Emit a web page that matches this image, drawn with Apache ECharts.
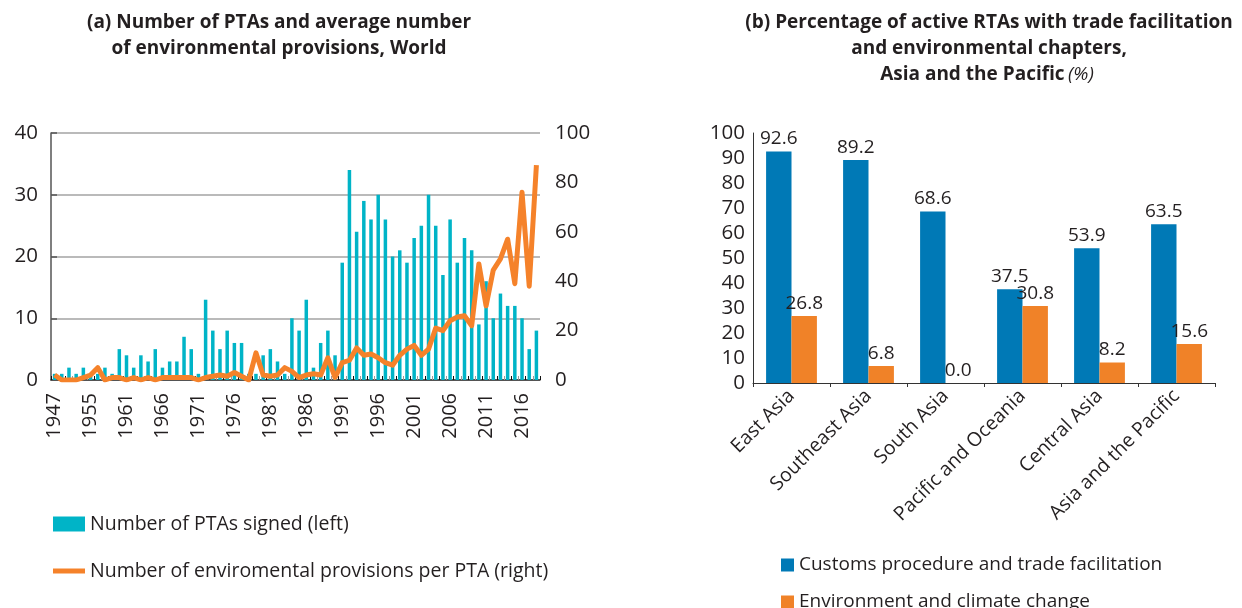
<!DOCTYPE html>
<html>
<head>
<meta charset="utf-8">
<script src="https://cdn.jsdelivr.net/npm/echarts@6/dist/echarts.min.js"></script>
<style>
  html, body { margin: 0; padding: 0; background: #ffffff; }
  #chart { width: 1242px; height: 608px; }
</style>
</head>
<body>
<div id="chart"></div>
<script>
// (a) PTAs signed per year and average environmental provisions per PTA
const years = [
  '1947', '1948', '1949', '1951', '1953', '1955', '1956', '1957', '1958', '1960',
  '1961', '1962', '1963', '1964', '1965', '1966', '1967', '1968', '1969', '1970',
  '1971', '1972', '1973', '1974', '1975', '1976', '1977', '1978', '1979', '1980',
  '1981', '1982', '1983', '1984', '1985', '1986', '1987', '1988', '1989', '1990',
  '1991', '1992', '1993', '1994', '1995', '1996', '1997', '1998', '1999', '2000',
  '2001', '2002', '2003', '2004', '2005', '2006', '2007', '2008', '2009', '2010',
  '2011', '2012', '2013', '2014', '2015', '2016', '2017', '2018'
];
const ptaSigned = [
  1, 1, 2, 1, 2, 1, 1, 2, 1, 5,
  4, 2, 4, 3, 5, 2, 3, 3, 7, 5,
  1, 13, 8, 5, 8, 6, 6, 1, 1, 4,
  5, 3, 1, 10, 8, 13, 2, 6, 8, 4,
  19, 34, 24, 29, 26, 30, 26, 20, 21, 19,
  23, 25, 30, 25, 17, 26, 19, 23, 21, 9,
  16, 10, 14, 12, 12, 10, 5, 8
];
const envProvisions = [
  2, 0, 0, 0, 1, 2, 5, 0, 1, 1,
  0, 1, 0, 1, 0, 1, 1, 1, 1, 1,
  0, 1, 1.5, 2, 1.5, 3, 1.5, 0, 11, 2,
  1.5, 2, 5, 3.5, 1, 2, 2.5, 2, 9, 1,
  7, 8, 13, 10, 10.5, 9, 7, 6, 10, 12.5,
  14, 10, 12.5, 21, 20, 24, 25.5, 26, 22, 47,
  30, 44.5, 49, 57, 39, 76, 38, 87
];

// (b) Share of active RTAs with each chapter type, by subregion (%)
const regions = ['East Asia', 'Southeast Asia', 'South Asia', 'Pacific and Oceania', 'Central Asia', 'Asia and the Pacific'];
const customsShare = [92.6, 89.2, 68.6, 37.5, 53.9, 63.5];
const environmentShare = [26.8, 6.8, 0.0, 30.8, 8.2, 15.6];

const leftTicks = [0, 10, 20, 30, 40];
const rightTicks = [0, 20, 40, 60, 80, 100];

const FONT = '"Open Sans", "Noto Sans", sans-serif';
const INK = '#231f20';
const CYAN = '#00b4c7';
const LINE_ORANGE = '#f5822a';
const BLUE = '#0079b6';
const ORANGE = '#f08228';

const chart = echarts.init(document.getElementById('chart'), null, { renderer: 'canvas' });

const titleFont = 'bold 19px ' + FONT;
const legendText = { fontSize: 19.5, fontFamily: FONT, color: INK, lineHeight: 20 };
const legendTextRight = { fontSize: 19, fontFamily: FONT, color: INK, lineHeight: 20 };

const option = {
  backgroundColor: '#ffffff',
  animation: false,
  textStyle: { fontFamily: FONT, color: INK },
  graphic: [
    { type: 'text', x: 279, y: 23, style: { text: '(a) Number of PTAs and average number', font: titleFont, fill: INK, align: 'center', verticalAlign: 'middle' } },
    { type: 'text', x: 279, y: 49, style: { text: 'of environmental provisions, World', font: titleFont, fill: INK, align: 'center', verticalAlign: 'middle' } },
    { type: 'text', x: 989, y: 23, style: { text: '(b) Percentage of active RTAs with trade facilitation', font: titleFont, fill: INK, align: 'center', verticalAlign: 'middle' } },
    { type: 'text', x: 989, y: 49, style: { text: 'and environmental chapters,', font: titleFont, fill: INK, align: 'center', verticalAlign: 'middle' } },
    { type: 'text', x: 987, y: 75, style: {
        text: '{b|Asia and the Pacific} {i|(%)}',
        align: 'center', verticalAlign: 'middle',
        rich: {
          b: { font: titleFont, fill: INK },
          i: { font: 'italic 19px ' + FONT, fill: INK }
        }
      } }
  ],
  legend: [
    {
      data: ['Number of PTAs signed (left)'],
      left: 48, top: 509, icon: 'rect', itemWidth: 32, itemHeight: 15,
      selectedMode: false, textStyle: legendText
    },
    {
      data: ['Number of enviromental provisions per PTA (right)'],
      left: 48, top: 556, icon: 'rect', itemWidth: 32, itemHeight: 5,
      selectedMode: false, textStyle: legendText
    },
    {
      data: ['Customs procedure and trade facilitation'],
      left: 776, top: 550, icon: 'rect', itemWidth: 13, itemHeight: 13,
      selectedMode: false, textStyle: legendTextRight
    },
    {
      data: ['Environment and climate change'],
      left: 776, top: 587, icon: 'rect', itemWidth: 13, itemHeight: 13,
      selectedMode: false, textStyle: legendTextRight
    }
  ],
  grid: [
    { left: 51, right: 702, top: 133, bottom: 228, containLabel: false },
    { left: 753, right: 27, top: 133, bottom: 225, containLabel: false }
  ],
  xAxis: [
    {
      gridIndex: 0, type: 'category', data: years, position: 'bottom',
      axisLine: { lineStyle: { color: '#333333', width: 1.5 } },
      axisTick: { show: true, inside: true, length: 4, interval: 0, lineStyle: { color: '#9a9a9a' } },
      axisLabel: {
        interval: (i) => i % 5 === 0,
        rotate: 90, fontSize: 20, margin: 13, color: INK, fontFamily: FONT
      },
      splitLine: { show: false }
    },
    {
      gridIndex: 0, type: 'category', data: years, position: 'bottom',
      axisLine: { show: false },
      axisTick: { show: true, inside: true, length: 4, interval: 1, lineStyle: { color: '#111111' } },
      axisLabel: { show: false },
      splitLine: { show: false }
    },
    {
      gridIndex: 1, type: 'category', data: regions,
      axisLine: { lineStyle: { color: '#333333', width: 1 } },
      axisTick: { show: true, length: 4, lineStyle: { color: '#333333' } },
      axisLabel: { rotate: 45, interval: 0, fontSize: 19.5, margin: 10, color: INK, fontFamily: FONT }
    }
  ],
  yAxis: [
    {
      gridIndex: 0, type: 'value', min: leftTicks[0], max: leftTicks[leftTicks.length - 1], interval: 10,
      axisLine: { show: true, lineStyle: { color: '#555555', width: 1.5 } },
      axisTick: { show: true, inside: true, length: 6, lineStyle: { color: '#555555', width: 1.5 } },
      splitLine: { show: true, lineStyle: { color: '#a3a3a3', width: 1.5 } },
      axisLabel: { fontSize: 20.5, margin: 13, color: INK, fontFamily: FONT }
    },
    {
      gridIndex: 0, type: 'value', position: 'right', min: rightTicks[0], max: rightTicks[rightTicks.length - 1], interval: 20,
      axisLine: { show: false }, axisTick: { show: false }, splitLine: { show: false },
      axisLabel: { fontSize: 20.5, margin: 15, color: INK, fontFamily: FONT }
    },
    {
      gridIndex: 1, type: 'value', min: 0, max: 100, interval: 10,
      axisLine: { show: true, lineStyle: { color: '#333333', width: 1 } },
      axisTick: { show: false }, splitLine: { show: false },
      axisLabel: { fontSize: 20.5, margin: 8, color: INK, fontFamily: FONT }
    }
  ],
  series: [
    {
      name: 'Number of PTAs signed (left)', type: 'bar',
      xAxisIndex: 0, yAxisIndex: 0, data: ptaSigned,
      barWidth: 3.5, itemStyle: { color: CYAN }
    },
    {
      name: 'Number of enviromental provisions per PTA (right)', type: 'line',
      xAxisIndex: 0, yAxisIndex: 1, data: envProvisions,
      symbol: 'none', showSymbol: false, smooth: false, z: 5,
      lineStyle: { color: LINE_ORANGE, width: 5, join: 'round' },
      itemStyle: { color: LINE_ORANGE }
    },
    {
      name: 'Customs procedure and trade facilitation', type: 'bar',
      xAxisIndex: 2, yAxisIndex: 2, data: customsShare,
      barGap: '0%', barCategoryGap: '34%',
      itemStyle: { color: BLUE },
      label: { show: true, position: 'top', distance: 3, fontSize: 19, color: INK, fontFamily: FONT,
        formatter: (p) => p.value.toFixed(1) }
    },
    {
      name: 'Environment and climate change', type: 'bar',
      xAxisIndex: 2, yAxisIndex: 2, data: environmentShare,
      barGap: '0%', barCategoryGap: '34%',
      itemStyle: { color: ORANGE },
      label: { show: true, position: 'top', distance: 3, fontSize: 19, color: INK, fontFamily: FONT,
        formatter: (p) => p.value.toFixed(1) }
    }
  ]
};

chart.setOption(option);
</script>
</body>
</html>
